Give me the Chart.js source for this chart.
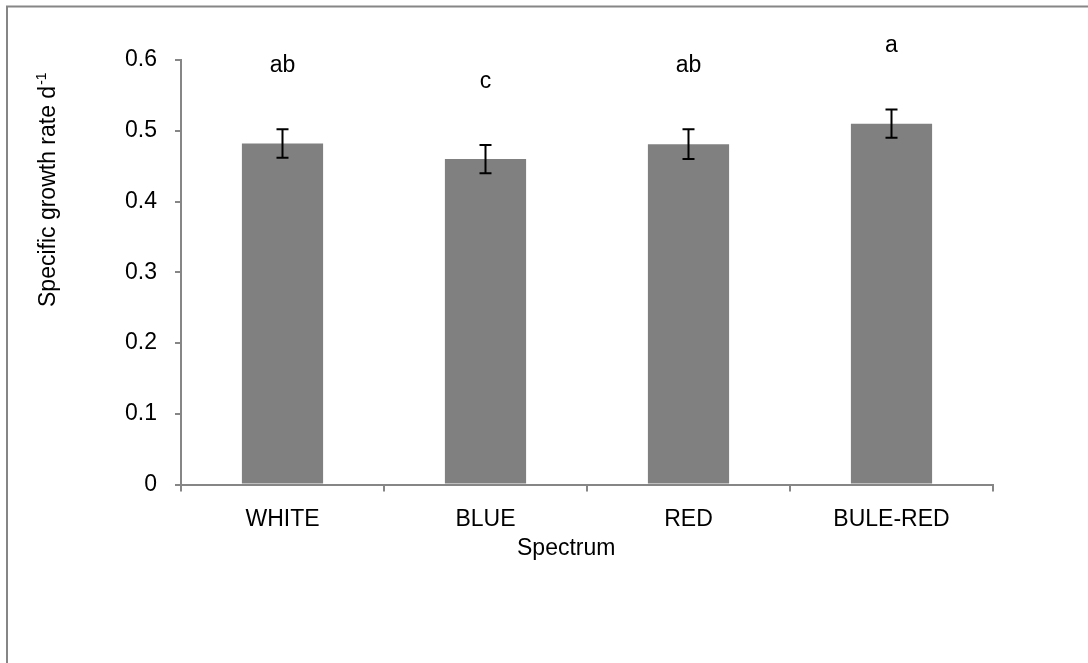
<!DOCTYPE html>
<html>
<head>
<meta charset="utf-8">
<script src="https://cdn.jsdelivr.net/npm/chart.js@4.4.1/dist/chart.umd.min.js"></script>
<style>
  html, body { margin: 0; padding: 0; background: #fff; }
  canvas { display: block; }
</style>
</head>
<body>
<canvas id="growthChart" width="1088" height="663"></canvas>
<script>
const categories = ["WHITE", "BLUE", "RED", "BULE-RED"];
const growthRate = [0.482, 0.460, 0.481, 0.510];
const growthErr  = [0.020, 0.020, 0.021, 0.020];
const sigLetters = ["ab", "c", "ab", "a"];
const yTickLabels = ["0", "0.1", "0.2", "0.3", "0.4", "0.5", "0.6"];

const FONT = '"Liberation Sans", Arial, sans-serif';
const AXIS_GRAY = "#868686";

// error bars, letters, axis titles and the outer frame
const extras = {
  id: "extras",
  beforeDraw(chart) {
    const ctx = chart.ctx;
    ctx.save();
    ctx.strokeStyle = AXIS_GRAY;
    ctx.lineWidth = 2;
    ctx.beginPath();
    ctx.moveTo(7, chart.height);
    ctx.lineTo(7, 6.5);
    ctx.lineTo(chart.width, 6.5);
    ctx.stroke();
    ctx.restore();
  },
  afterDatasetsDraw(chart) {
    const ctx = chart.ctx;
    const x = chart.scales.x;
    const y = chart.scales.y;

    ctx.save();
    ctx.strokeStyle = "#000";
    ctx.lineWidth = 2;
    growthRate.forEach((v, i) => {
      const cx = x.getPixelForValue(i);
      const top = y.getPixelForValue(v + growthErr[i]);
      const bot = y.getPixelForValue(v - growthErr[i]);
      ctx.beginPath();
      ctx.moveTo(cx, top); ctx.lineTo(cx, bot);
      ctx.moveTo(cx - 6, top); ctx.lineTo(cx + 6, top);
      ctx.moveTo(cx - 6, bot); ctx.lineTo(cx + 6, bot);
      ctx.stroke();
    });

    ctx.fillStyle = "#000";
    ctx.font = "23px " + FONT;
    ctx.textAlign = "center";
    ctx.textBaseline = "middle";
    growthRate.forEach((v, i) => {
      const cx = x.getPixelForValue(i);
      ctx.fillText(sigLetters[i], cx, y.getPixelForValue(v + growthErr[i] + 0.09));
    });

    // x title
    ctx.textAlign = "left";
    ctx.textBaseline = "alphabetic";
    ctx.fillText("Spectrum", 517, 555);

    // y title, rotated, with superscript
    ctx.translate(55, 307);
    ctx.rotate(-Math.PI / 2);
    ctx.font = "23px " + FONT;
    const main = "Specific growth rate d";
    ctx.fillText(main, 0, 0);
    const w = ctx.measureText(main).width;
    ctx.font = "14px " + FONT;
    ctx.fillText("-1", w + 1, -9);
    ctx.restore();
  }
};

new Chart(document.getElementById("growthChart"), {
  type: "bar",
  data: {
    labels: categories,
    datasets: [{
      data: growthRate,
      backgroundColor: "#808080",
      borderWidth: 0,
      barPercentage: 0.4,
      categoryPercentage: 1
    }]
  },
  options: {
    responsive: false,
    animation: false,
    layout: { padding: { top: 60, right: 95, left: 0, bottom: 0 } },
    plugins: { legend: { display: false }, tooltip: { enabled: false } },
    scales: {
      x: {
        afterFit: s => { s.height = 178.5; },
        grid: { drawOnChartArea: false, drawTicks: true, tickLength: 7, color: AXIS_GRAY, lineWidth: 2, offset: true },
        border: { color: AXIS_GRAY, width: 2 },
        ticks: { color: "#000", font: { family: FONT, size: 23 }, padding: 14, maxRotation: 0 }
      },
      y: {
        min: 0,
        max: 0.6,
        afterFit: s => { s.width = 181; },
        grid: { drawOnChartArea: false, drawTicks: true, tickLength: 6, color: AXIS_GRAY, lineWidth: 2 },
        border: { color: AXIS_GRAY, width: 2 },
        ticks: {
          stepSize: 0.1,
          color: "#000",
          font: { family: FONT, size: 23 },
          padding: 18,
          callback: (val, idx) => yTickLabels[idx]
        }
      }
    }
  },
  plugins: [extras]
});
</script>
</body>
</html>
